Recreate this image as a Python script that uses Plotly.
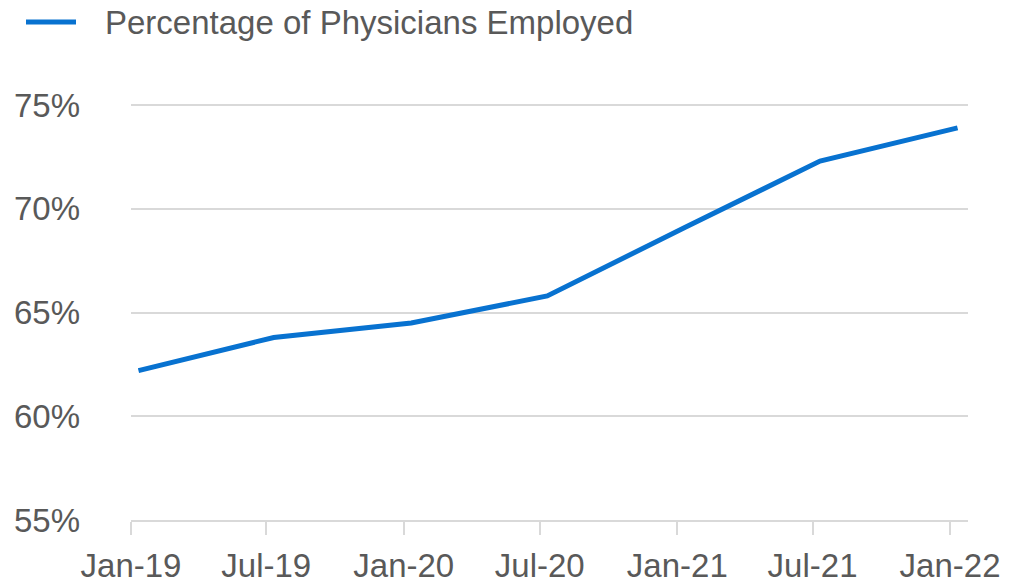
import plotly.graph_objects as go

# Survey dates and share of physicians employed (%)
survey_dates = ["2019-01-11", "2019-07-11", "2020-01-11", "2020-07-11",
                "2021-01-11", "2021-07-11", "2022-01-11"]
pct_employed = [62.2, 63.8, 64.5, 65.8, 69.1, 72.3, 73.9]

# Axis ticks
x_tick_dates = ["2019-01-01", "2019-07-01", "2020-01-01", "2020-07-01",
                "2021-01-01", "2021-07-01", "2022-01-01"]
x_tick_labels = ["Jan-19", "Jul-19", "Jan-20", "Jul-20", "Jan-21", "Jul-21", "Jan-22"]
y_tick_values = [55, 60, 65, 70, 75]
y_tick_labels = ["55%", "60%", "65%", "70%", "75%"]

series_name = "Percentage of Physicians Employed"
LINE_BLUE = "#0872D0"
TEXT_GREY = "#595959"
GRID_GREY = "#D9D9D9"
FONT = "Liberation Sans, Arial, sans-serif"
FONT_SIZE = 33

W, H = 1013, 584
M_L, M_R, M_T, M_B = 131, 45, 102, 64

fig = go.Figure()
fig.add_trace(go.Scatter(
    x=survey_dates, y=pct_employed, mode="lines", name=series_name,
    line=dict(color=LINE_BLUE, width=5), showlegend=False,
))

# Legend drawn as a line sample plus label above the plot
plot_w = W - M_L - M_R
plot_h = H - M_T - M_B
def px_x(px):
    return (px - M_L) / plot_w
def px_y(py):
    return (H - M_B - py) / plot_h

fig.add_shape(type="line", xref="paper", yref="paper",
              x0=px_x(26), x1=px_x(76), y0=px_y(22), y1=px_y(22),
              line=dict(color=LINE_BLUE, width=5))
fig.add_annotation(xref="paper", yref="paper", x=px_x(103), y=px_y(23),
                   xanchor="left", yanchor="middle", showarrow=False,
                   text=series_name, font=dict(size=FONT_SIZE, color=TEXT_GREY, family=FONT))

fig.update_layout(
    width=W, height=H,
    margin=dict(l=M_L, r=M_R, t=M_T, b=M_B),
    paper_bgcolor="white", plot_bgcolor="white",
    font=dict(family=FONT, color=TEXT_GREY, size=FONT_SIZE),
)
fig.update_xaxes(
    range=["2019-01-01", "2022-01-25"],
    tickvals=x_tick_dates, ticktext=x_tick_labels,
    showgrid=False, zeroline=False, automargin=False,
    showline=True, linecolor=GRID_GREY, linewidth=1.5,
    ticks="outside", ticklen=13, tickcolor=GRID_GREY, tickwidth=1.5,
    ticklabelstandoff=3,
    tickfont=dict(size=FONT_SIZE, color=TEXT_GREY),
)
fig.update_yaxes(
    range=[55, 75.15], tickvals=y_tick_values, ticktext=y_tick_labels,
    showgrid=True, gridcolor=GRID_GREY, gridwidth=1.5,
    zeroline=False, showline=False, ticks="", automargin=False,
    ticklabelstandoff=50,
    tickfont=dict(size=FONT_SIZE, color=TEXT_GREY),
)

fig.write_html("out.html")
